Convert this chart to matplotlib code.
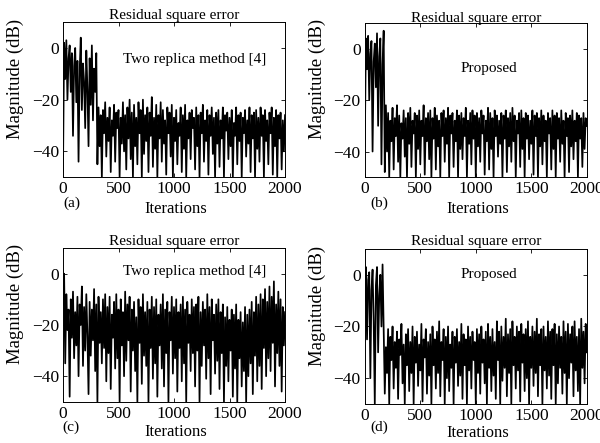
import numpy as np
import matplotlib
matplotlib.use("Agg")
import matplotlib.pyplot as plt

plt.rcParams['font.family'] = ['Liberation Serif', 'DejaVu Serif']

iterations = np.arange(0, 2001, 10)

err_a = [
    -48, 2, -12, 3, -20, -4, 1, -17, -2, -34, -7, 0, -21, -5, -44, -9, 4, -24, -6, -13,
    -31, -1, -16, -38, -4, -22, 1, -28, -8, -17, -2, -45, -23, -38, -26, -50, -24, -33, -21, -42,
    -27, -36, -23, -48, -28, -34, -22, -44, -25, -31, -24, -50, -27, -37, -21, -40, -26, -47, -23, -35,
    -20, -43, -25, -50, -22, -38, -27, -45, -21, -33, -24, -50, -20, -41, -26, -36, -23, -48, -25, -34,
    -19, -46, -27, -39, -22, -50, -26, -35, -21, -44, -24, -37, -28, -49, -23, -33, -25, -42, -22, -50,
    -27, -36, -24, -45, -29, -34, -23, -48, -26, -39, -22, -50, -28, -35, -25, -43, -24, -31, -27, -47,
    -23, -38, -26, -50, -25, -33, -22, -44, -28, -36, -24, -49, -26, -34, -23, -41, -27, -50, -25, -37,
    -24, -46, -28, -35, -23, -50, -26, -32, -25, -43, -27, -38, -24, -50, -29, -34, -23, -45, -26, -36,
    -25, -50, -27, -33, -24, -42, -28, -37, -23, -48, -26, -35, -25, -50, -24, -39, -27, -44, -23, -34,
    -26, -50, -24, -36, -28, -45, -25, -33, -23, -49, -27, -38, -24, -50, -26, -35, -25, -47, -28, -40,
    -26,
]

err_b = [
    -38, 4, -8, 5, -20, -2, 3, -40, -5, 2, -15, 6, -30, -3, 4, -45, -6, 7, -48, -22,
    -40, -25, -50, -28, -36, -23, -47, -27, -34, -22, -44, -26, -50, -29, -35, -24, -42, -27, -50, -25,
    -37, -23, -46, -28, -33, -25, -50, -26, -39, -24, -45, -28, -34, -22, -49, -27, -36, -25, -43, -24,
    -50, -27, -35, -23, -47, -26, -38, -28, -50, -25, -34, -24, -44, -27, -37, -23, -50, -26, -33, -25,
    -46, -28, -36, -24, -50, -26, -39, -25, -43, -27, -34, -23, -50, -28, -37, -25, -45, -24, -35, -26,
    -50, -25, -38, -27, -44, -24, -33, -26, -49, -28, -36, -23, -47, -25, -39, -27, -50, -24, -34, -26,
    -42, -28, -37, -25, -50, -26, -35, -24, -48, -27, -38, -25, -44, -23, -36, -26, -50, -28, -33, -25,
    -46, -24, -39, -27, -50, -25, -35, -26, -43, -28, -37, -24, -49, -26, -34, -25, -50, -27, -38, -24,
    -45, -26, -36, -28, -50, -25, -33, -27, -47, -24, -39, -26, -50, -25, -35, -27, -44, -24, -37, -28,
    -50, -25, -34, -27, -48, -26, -38, -24, -43, -28, -36, -25, -50, -26, -35, -27, -46, -25, -39, -27,
    -30,
]

err_c = [
    -12, 0, -35, -8, -22, -14, -48, -10, -25, -7, -33, -15, -28, -9, -40, -12, -20, -5, -36, -13,
    -30, -8, -24, -47, -11, -32, -14, -26, -6, -38, -12, -50, -9, -27, -15, -35, -10, -29, -8, -42,
    -13, -31, -9, -45, -16, -25, -11, -37, -8, -33, -14, -50, -10, -28, -15, -40, -7, -34, -12, -26,
    -9, -46, -14, -30, -11, -38, -17, -50, -10, -27, -13, -43, -8, -32, -15, -36, -11, -50, -14, -29,
    -9, -41, -13, -35, -10, -48, -16, -28, -12, -37, -8, -44, -14, -31, -11, -50, -15, -26, -9, -39,
    -13, -33, -10, -46, -15, -29, -12, -42, -9, -35, -14, -50, -11, -27, -16, -38, -10, -31, -13, -44,
    -12, -30, -9, -50, -15, -36, -11, -28, -14, -41, -8, -33, -13, -47, -10, -26, -16, -39, -12, -34,
    -10, -45, -15, -31, -12, -50, -17, -36, -13, -42, -18, -30, -14, -48, -16, -37, -12, -50, -18, -33,
    -15, -44, -19, -38, -13, -50, -16, -40, -14, -35, -11, -47, -15, -32, -9, -42, -12, -36, -8, -45,
    -10, -29, -6, -40, -11, -33, -5, -38, -9, -27, -3, -44, -12, -31, -7, -36, -10, -46, -13, -28,
    -15,
]

err_d = [
    -10, 3, -25, -2, 1, -40, -6, 2, -18, -50, -4, 3, -30, -8, 0, -20, 4, -22, -46, -28,
    -38, -21, -50, -24, -33, -20, -44, -26, -36, -22, -48, -25, -31, -19, -42, -27, -50, -23, -35, -21,
    -45, -26, -38, -20, -50, -24, -34, -22, -43, -27, -37, -19, -49, -25, -32, -21, -46, -26, -39, -23,
    -50, -20, -35, -25, -44, -22, -38, -18, -47, -26, -33, -21, -50, -24, -40, -20, -45, -27, -36, -22,
    -50, -24, -34, -21, -43, -26, -39, -19, -48, -23, -35, -25, -50, -20, -37, -24, -44, -22, -33, -26,
    -50, -21, -38, -23, -46, -20, -34, -25, -42, -22, -50, -19, -36, -24, -45, -21, -39, -26, -48, -18,
    -33, -22, -50, -20, -41, -24, -36, -17, -47, -23, -38, -21, -50, -18, -35, -24, -44, -20, -37, -22,
    -49, -19, -34, -23, -45, -21, -40, -18, -50, -24, -36, -20, -43, -22, -38, -17, -47, -23, -35, -21,
    -50, -20, -37, -24, -44, -18, -39, -22, -48, -21, -35, -19, -50, -23, -42, -20, -36, -24, -46, -18,
    -38, -22, -50, -19, -40, -23, -34, -20, -47, -18, -37, -24, -45, -21, -50, -17, -36, -22, -42, -19,
    -30,
]

panel_series = [err_a, err_b, err_c, err_d]
panel_tags = ['(a)', '(b)', '(c)', '(d)']
panel_notes = ['Two replica method [4]', 'Proposed', 'Two replica method [4]', 'Proposed']
note_pos = [(1190, -4.5), (1120, -7.5), (1190, 1.0), (1120, 0.0)]
x_ticks = [0, 500, 1000, 1500, 2000]
y_ticks = [-40, -20, 0]

# axes rectangles in figure fractions
rects = [
    [0.105, 0.600, 0.370, 0.350],
    [0.608, 0.600, 0.370, 0.348],
    [0.105, 0.093, 0.370, 0.347],
    [0.608, 0.088, 0.370, 0.350],
]
tag_xy = [(0.04, -0.17), (0.065, -0.17), (0.035, -0.168), (0.065, -0.15)]
iter_y = [-0.205, -0.205, -0.195, -0.185]
title_y = [1.045, 1.03, 1.045, 1.05]

fig = plt.figure(figsize=(6, 4.43), dpi=100)

for k in range(4):
    ax = fig.add_axes(rects[k])
    ax.plot(iterations, panel_series[k], color='black', linewidth=1.25)
    ax.set_xlim(0, 2000)
    ax.set_ylim(-50, 10)
    ax.set_xticks(x_ticks)
    ax.set_yticks(y_ticks)
    ax.tick_params(direction='in', top=True, right=True, labelsize=12.5,
                   length=3, width=0.6, pad=3)
    for sp in ax.spines.values():
        sp.set_linewidth(0.7)
    ax.set_ylabel('Magnitude (dB)', fontsize=13.5)
    ax.yaxis.set_label_coords(-0.175, 0.635)
    ax.text(0.5, title_y[k], 'Residual square error', transform=ax.transAxes,
            ha='center', va='center', fontsize=11)
    ax.text(note_pos[k][0], note_pos[k][1], panel_notes[k],
            ha='center', va='center', fontsize=11)
    ax.text(tag_xy[k][0], tag_xy[k][1], panel_tags[k], transform=ax.transAxes,
            ha='center', va='center', fontsize=11)
    ax.text(0.51, iter_y[k], 'Iterations', transform=ax.transAxes,
            ha='center', va='center', fontsize=12)

fig.savefig('out.png', dpi=100)
